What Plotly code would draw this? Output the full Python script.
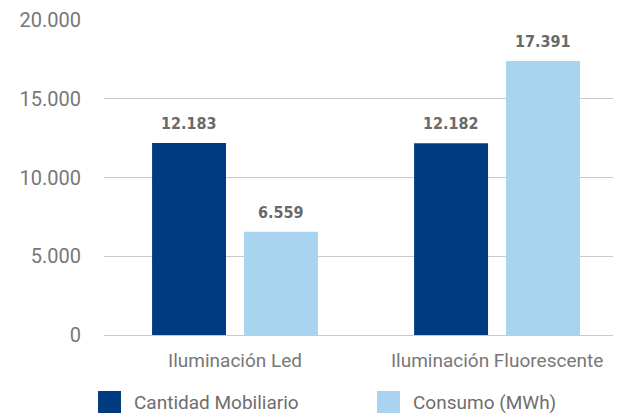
import plotly.graph_objects as go

categories = ["Iluminación Led", "Iluminación Fluorescente"]
series_names = ["Cantidad Mobiliario", "Consumo (MWh)"]
cantidad = [12183, 12182]
consumo = [6559, 17391]
y_ticks = [0, 5000, 10000, 15000, 20000]

colors = ["#013b82", "#a9d4ef"]
series_values = [cantidad, consumo]

# page body has an 8px margin: compensate
OFF = 8
W, H = 621 - OFF, 415 - OFF
L, T, B = 104 - OFF, 20 - OFF, 80
PH = H - T - B
PW = W - L

fig = go.Figure()
for name, vals, col in zip(series_names, series_values, colors):
    fig.add_trace(go.Bar(x=categories, y=vals, name=name, marker_color=col,
                         marker_line_width=0, showlegend=False))

label_font = dict(family="DejaVu Sans Condensed", size=16,
                  color="#6a6a6a", weight="bold")
annotations = []
for i, vals in enumerate(series_values):
    for cat, v in zip(categories, vals):
        annotations.append(dict(x=cat, y=v, xref="x", yref="y", text=f"{v:,}".replace(",", "."),
                                showarrow=False, xanchor="center", yanchor="bottom",
                                xshift=(-46 if i == 0 else 46), yshift=8, font=label_font))

# manual legend (page pixel coords converted to paper)
def px(x):
    return (x - OFF - L) / PW

def py(y):
    return (T + PH - (y - OFF)) / PH

legend_x = [98, 377]
shapes = []
for lx, name, col in zip(legend_x, series_names, colors):
    shapes.append(dict(type="rect", xref="paper", yref="paper",
                       x0=px(lx), x1=px(lx + 23), y0=py(413), y1=py(391),
                       fillcolor=col, line_width=0))
    annotations.append(dict(x=px(lx + 34), y=py(402),
                            xref="paper", yref="paper", text=name, showarrow=False,
                            xanchor="left", yanchor="middle",
                            font=dict(family="Roboto", size=19, color="#6e6e6e")))

fig.update_layout(
    width=W, height=H,
    margin=dict(l=L, r=0, t=T, b=B, pad=0),
    paper_bgcolor="white", plot_bgcolor="white",
    barmode="group", bargap=0.298, bargroupgap=0.196,
    separators=",.",
    annotations=annotations, shapes=shapes,
    showlegend=False,
)
fig.update_xaxes(range=[-0.5, 1.473], showgrid=False, showline=False, ticks="",
                 ticklabelstandoff=12,
                 tickfont=dict(family="Roboto", size=19, color="#777777"))
fig.update_yaxes(range=[0, 20000], tickvals=y_ticks, tickformat=",d",
                 showgrid=True, gridcolor="#c9c9c9", gridwidth=1,
                 zeroline=True, zerolinecolor="#c9c9c9", zerolinewidth=1,
                 showline=False, ticks="", ticklabelstandoff=22,
                 tickfont=dict(family="Roboto", size=20, color="#777777"))

fig.write_html("out.html")
